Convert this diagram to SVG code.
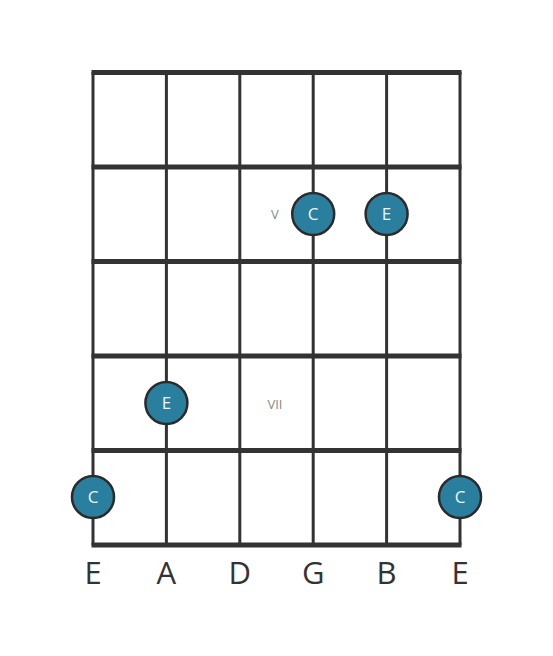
<svg xmlns="http://www.w3.org/2000/svg" width="553" height="656" viewBox="0 0 553 656">
<style>
.fret{stroke:#333;stroke-width:5;fill:none}
.str{stroke:#333;stroke-width:3;fill:none}
.dot circle{fill:#2a7f9e;stroke:#2b2b2b;stroke-width:2.5}
.dot text{fill:#e8f6fa;font-family:"Open Sans","Noto Sans",sans-serif;font-size:17px;text-anchor:middle}
.pos{fill:#888;font-family:"Open Sans","Noto Sans",sans-serif;font-size:13px;text-anchor:middle}
.lbl{fill:#333;font-family:"Open Sans","Noto Sans",sans-serif;font-size:31px;text-anchor:middle}
</style>
<rect width="553" height="656" fill="#fff"/>
<g id="grid">
<line class="str" x1="93" y1="72" x2="93" y2="545"/>
<line class="str" x1="166.4" y1="72" x2="166.4" y2="545"/>
<line class="str" x1="239.8" y1="72" x2="239.8" y2="545"/>
<line class="str" x1="313.2" y1="72" x2="313.2" y2="545"/>
<line class="str" x1="386.6" y1="72" x2="386.6" y2="545"/>
<line class="str" x1="460" y1="72" x2="460" y2="545"/>
<line class="fret" x1="91.5" y1="72.5" x2="461.5" y2="72.5"/>
<line class="fret" x1="91.5" y1="167" x2="461.5" y2="167"/>
<line class="fret" x1="91.5" y1="261.5" x2="461.5" y2="261.5"/>
<line class="fret" x1="91.5" y1="356" x2="461.5" y2="356"/>
<line class="fret" x1="91.5" y1="450.5" x2="461.5" y2="450.5"/>
<line class="fret" x1="91.5" y1="545" x2="461.5" y2="545"/>
</g>
<g id="positions">
<text class="pos" x="275" y="219">V</text>
<text class="pos" x="275" y="408.5">VII</text>
</g>
<g id="n1" class="dot"><circle cx="313.2" cy="214" r="21"/><text x="313.2" y="220">C</text></g>
<g id="n2" class="dot"><circle cx="386.6" cy="214" r="21"/><text x="386.6" y="220">E</text></g>
<g id="n3" class="dot"><circle cx="166.4" cy="403" r="21"/><text x="166.4" y="409">E</text></g>
<g id="n4" class="dot"><circle cx="93" cy="497" r="21"/><text x="93" y="503">C</text></g>
<g id="n5" class="dot"><circle cx="460" cy="497" r="21"/><text x="460" y="503">C</text></g>
<g id="labels">
<text class="lbl" x="93" y="584">E</text>
<text class="lbl" x="166.4" y="584">A</text>
<text class="lbl" x="239.8" y="584">D</text>
<text class="lbl" x="313.2" y="584">G</text>
<text class="lbl" x="386.6" y="584">B</text>
<text class="lbl" x="460" y="584">E</text>
</g>
</svg>
